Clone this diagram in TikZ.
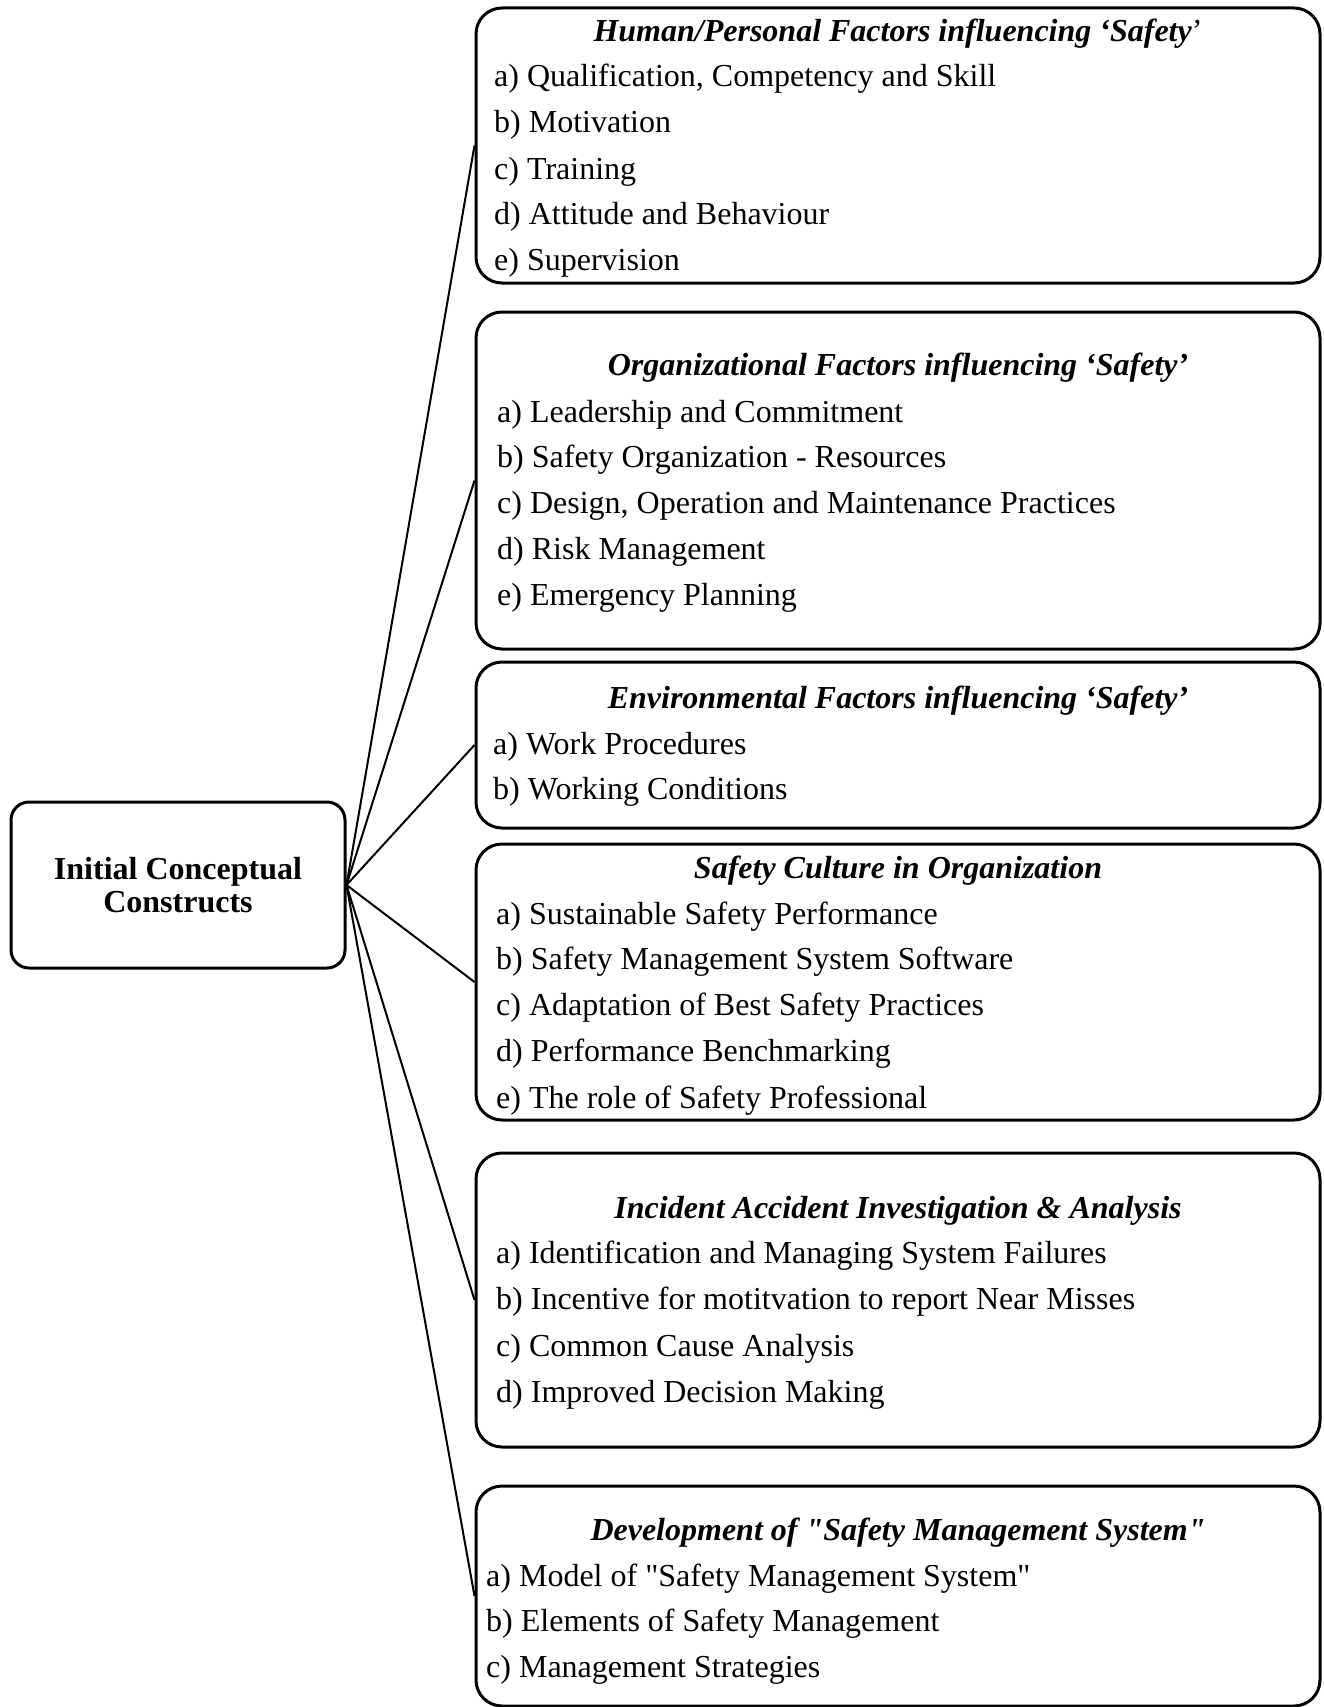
\documentclass[tikz,border=0pt]{standalone}
\usepackage{fontspec}
\setmainfont{Liberation Serif}[Ligatures=TeXOff]
\begin{document}
\begin{tikzpicture}[x=1pt,y=-1pt,
  panel/.style={draw=black, line width=3pt, rounded corners=26pt,
    minimum width=844pt, inner sep=0pt},
  core/.style={draw=black, line width=3pt, rounded corners=18pt,
    minimum width=334pt, minimum height=166pt, inner sep=0pt, align=center,
    font=\fontsize{32}{33}\selectfont\bfseries},
  head/.style={anchor=base, inner sep=0pt,
    font=\fontsize{32}{38}\selectfont\bfseries\itshape},
  item/.style={anchor=base west, inner sep=0pt,
    font=\fontsize{32}{38}\selectfont},
  link/.style={line width=2pt}]
\useasboundingbox (0,0) rectangle (1323,1707);

% central concept
\node[core] (hub) at (178,885) {Initial Conceptual\\Constructs};

% category panels
\node[panel, minimum height=275pt] (b1) at (898,145.5) {};
\node[panel, minimum height=337pt] (b2) at (898,480.5) {};
\node[panel, minimum height=166pt] (b3) at (898,745) {};
\node[panel, minimum height=276pt] (b4) at (898,982) {};
\node[panel, minimum height=294pt] (b5) at (898,1300) {};
\node[panel, minimum height=220pt] (b6) at (898,1596) {};

% connectors from the central concept
\foreach \b in {b1,b2,b3,b4,b5,b6}
  \draw[link] (hub.east) -- (\b.west);

% panel 1
\node[head] (t1) at (898,42) {Human/Personal Factors influencing ‘Safety{\normalfont’}};
\node[item] (i1a) at (494,87)  {a) Qualification, Competency and Skill};
\node[item] (i1b) at (494,133) {b) Motivation};
\node[item] (i1c) at (494,179) {c) Training};
\node[item] (i1d) at (494,224) {d) Attitude and Behaviour};
\node[item] (i1e) at (494,270) {e) Supervision};

% panel 2
\node[head] (t2) at (898,375.5) {Organizational Factors influencing ‘Safety’};
\node[item] (i2a) at (497,422.5) {a) Leadership and Commitment};
\node[item] (i2b) at (497,467.5) {b) Safety Organization - Resources};
\node[item] (i2c) at (497,513.5) {c) Design, Operation and Maintenance Practices};
\node[item] (i2d) at (497,559.5) {d) Risk Management};
\node[item] (i2e) at (497,605.5) {e) Emergency Planning};

% panel 3
\node[head] (t3) at (898,708.5) {Environmental Factors influencing ‘Safety’};
\node[item] (i3a) at (493,754.5) {a) Work Procedures};
\node[item] (i3b) at (493,799.5) {b) Working Conditions};

% panel 4
\node[head] (t4) at (898,878.5) {Safety Culture in Organization};
\node[item] (i4a) at (496,924.5)  {a) Sustainable Safety Performance};
\node[item] (i4b) at (496,969.5)  {b) Safety Management System Software};
\node[item] (i4c) at (496,1015.5) {c) Adaptation of Best Safety Practices};
\node[item] (i4d) at (496,1061.5) {d) Performance Benchmarking};
\node[item] (i4e) at (496,1108.5) {e) The role of Safety Professional};

% panel 5
\node[head] (t5) at (898,1218.5) {Incident Accident Investigation \& Analysis};
\node[item] (i5a) at (496,1263.5) {a) Identification and Managing System Failures};
\node[item] (i5b) at (496,1309.5) {b) Incentive for motitvation to report Near Misses};
\node[item] (i5c) at (496,1356.5) {c) Common Cause Analysis};
\node[item] (i5d) at (496,1402.5) {d) Improved Decision Making};

% panel 6
\node[head] (t6) at (898,1540.5) {Development of "Safety Management System"};
\node[item] (i6a) at (486,1586.5) {a) Model of "Safety Management System"};
\node[item] (i6b) at (486,1631.5) {b) Elements of Safety Management};
\node[item] (i6c) at (486,1677.5) {c) Management Strategies};
\end{tikzpicture}
\end{document}
